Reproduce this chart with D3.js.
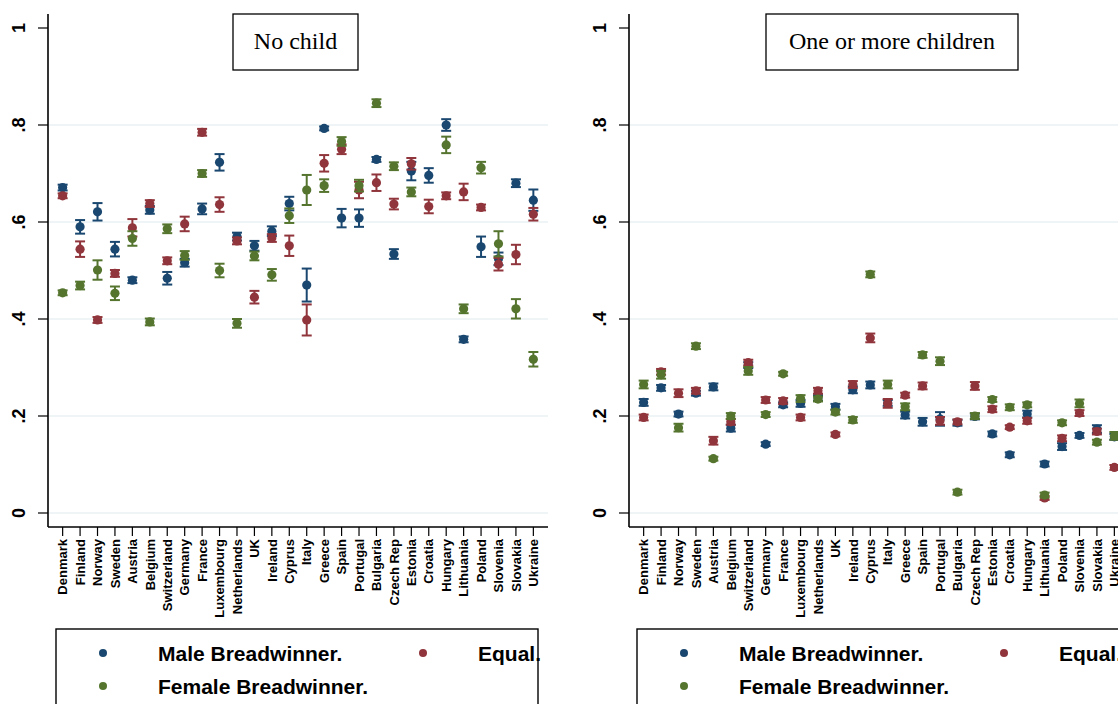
<!DOCTYPE html>
<html>
<head>
<meta charset="utf-8">
<script src="https://cdn.jsdelivr.net/npm/d3@7"></script>
<style>
  body { margin: 0; background: #fff; }
  svg { display: block; }
</style>
</head>
<body>
<div id="chart"></div>
<script>
// countries on the x axis (same order in both panels)
const countries = ['Denmark', 'Finland', 'Norway', 'Sweden', 'Austria', 'Belgium', 'Switzerland',
  'Germany', 'France', 'Luxembourg', 'Netherlands', 'UK', 'Ireland', 'Cyprus', 'Italy', 'Greece',
  'Spain', 'Portugal', 'Bulgaria', 'Czech Rep', 'Estonia', 'Croatia', 'Hungary', 'Lithuania',
  'Poland', 'Slovenia', 'Slovakia', 'Ukraine'];

const yTicks = [0, 0.2, 0.4, 0.6, 0.8, 1];
const yTickLabels = ['0', '.2', '.4', '.6', '.8', '1'];
const gridTicks = [0, 0.2, 0.4, 0.6, 0.8];

const seriesNames = ['Male Breadwinner', 'Equal', 'Female Breadwinner'];
const seriesColors = ['#1a476f', '#90353b', '#55752f'];

// panel 1: no child
const noChildMale = [0.671, 0.590, 0.621, 0.544, 0.480, 0.625, 0.484, 0.516, 0.627, 0.723, 0.570, 0.551, 0.581, 0.638,
  0.470, 0.793, 0.608, 0.608, 0.729, 0.534, 0.705, 0.696, 0.800, 0.358, 0.549, 0.524, 0.680, 0.645];
const noChildMaleCI = [0.006, 0.014, 0.018, 0.015, 0.006, 0.008, 0.013, 0.008, 0.011, 0.017, 0.008, 0.010, 0.010, 0.014,
  0.034, 0.004, 0.019, 0.018, 0.005, 0.010, 0.019, 0.015, 0.012, 0.006, 0.021, 0.013, 0.008, 0.022];
const noChildEqual = [0.654, 0.544, 0.398, 0.494, 0.588, 0.638, 0.520, 0.596, 0.785, 0.636, 0.561, 0.445, 0.567, 0.551,
  0.398, 0.721, 0.750, 0.666, 0.681, 0.637, 0.720, 0.632, 0.654, 0.662, 0.630, 0.513, 0.533, 0.616];
const noChildEqualCI = [0.005, 0.016, 0.006, 0.007, 0.018, 0.007, 0.007, 0.015, 0.007, 0.015, 0.007, 0.013, 0.008, 0.021,
  0.032, 0.017, 0.010, 0.017, 0.017, 0.011, 0.012, 0.014, 0.007, 0.017, 0.006, 0.013, 0.020, 0.013];
const noChildFemale = [0.454, 0.469, 0.501, 0.453, 0.566, 0.394, 0.586, 0.531, 0.700, 0.500, 0.391, 0.530, 0.491, 0.613,
  0.666, 0.675, 0.766, 0.675, 0.845, 0.715, 0.662, null, 0.759, 0.421, 0.712, 0.555, 0.421, 0.317];
const noChildFemaleCI = [0.005, 0.008, 0.020, 0.014, 0.015, 0.007, 0.009, 0.009, 0.007, 0.014, 0.009, 0.009, 0.012, 0.015,
  0.031, 0.013, 0.009, 0.012, 0.008, 0.008, 0.009, 0, 0.017, 0.009, 0.012, 0.026, 0.020, 0.015];

// panel 2: one or more children
const childMale = [0.228, 0.258, 0.204, 0.247, 0.260, 0.175, 0.305, 0.142, 0.223, 0.226, 0.237, 0.219, 0.254, 0.264,
  0.227, 0.202, 0.188, 0.194, 0.186, 0.199, 0.163, 0.120, 0.204, 0.101, 0.137, 0.160, 0.173, 0.157];
const childMaleCI = [0.007, 0.006, 0.005, 0.005, 0.007, 0.007, 0.006, 0.004, 0.005, 0.007, 0.006, 0.006, 0.007, 0.007,
  0.006, 0.007, 0.008, 0.014, 0.006, 0.006, 0.005, 0.005, 0.007, 0.005, 0.007, 0.005, 0.008, 0.006];
const childEqual = [0.197, 0.291, 0.247, 0.252, 0.149, 0.188, 0.310, 0.233, 0.231, 0.197, 0.252, 0.162, 0.265, 0.361,
  0.226, 0.243, 0.262, 0.190, 0.188, 0.262, 0.214, 0.177, 0.190, 0.031, 0.154, 0.206, 0.168, 0.094];
const childEqualCI = [0.006, 0.006, 0.008, 0.006, 0.008, 0.006, 0.006, 0.006, 0.006, 0.006, 0.006, 0.004, 0.007, 0.009,
  0.009, 0.005, 0.007, 0.008, 0.005, 0.008, 0.006, 0.004, 0.006, 0.004, 0.006, 0.006, 0.006, 0.005];
const childFemale = [0.265, 0.285, 0.176, 0.344, 0.112, 0.200, 0.293, 0.203, 0.287, 0.236, 0.235, 0.208, 0.192, 0.492,
  0.265, 0.219, 0.326, 0.313, 0.043, 0.200, 0.234, 0.218, 0.223, 0.037, 0.186, 0.226, 0.146, 0.159];
const childFemaleCI = [0.008, 0.008, 0.008, 0.006, 0.004, 0.006, 0.008, 0.005, 0.004, 0.007, 0.005, 0.005, 0.006, 0.006,
  0.008, 0.007, 0.006, 0.008, 0.005, 0.006, 0.005, 0.006, 0.005, 0.005, 0.005, 0.008, 0.005, 0.008];

const W = 1118, H = 704;

const svg = d3.select('#chart')
  .append('svg')
  .attr('width', W)
  .attr('height', H);

function drawPanel(ox, title, boxX0, boxX1, values, cis) {
  const g = svg.append('g').attr('transform', `translate(${ox},0)`);
  const axisX = 48, axisRight = 548, plotTop = 14, axisY = 527;

  const x = d3.scalePoint().domain(countries).range([axisX, axisRight]).padding(0.84);
  const y = d3.scaleLinear().domain([0, 1]).range([513, 28]);

  // gridlines
  g.append('g')
    .selectAll('line')
    .data(gridTicks)
    .join('line')
    .attr('x1', axisX + 1)
    .attr('x2', axisRight)
    .attr('y1', d => y(d))
    .attr('y2', d => y(d))
    .attr('stroke', '#eaf2f3')
    .attr('stroke-width', 1.6);

  // y axis
  g.append('line')
    .attr('x1', axisX).attr('x2', axisX)
    .attr('y1', plotTop).attr('y2', axisY)
    .attr('stroke', '#000').attr('stroke-width', 1.6);
  g.append('g')
    .selectAll('line')
    .data(yTicks)
    .join('line')
    .attr('x1', axisX - 10).attr('x2', axisX)
    .attr('y1', d => y(d)).attr('y2', d => y(d))
    .attr('stroke', '#000').attr('stroke-width', 1.2);
  g.append('g')
    .selectAll('text')
    .data(yTicks)
    .join('text')
    .attr('transform', d => `translate(25,${y(d)})rotate(-90)`)
    .attr('text-anchor', 'middle')
    .style('font-family', 'Liberation Sans, Arial, sans-serif')
    .style('font-weight', 'bold')
    .style('font-size', '18px')
    .text((d, i) => yTickLabels[i]);

  // x axis
  g.append('line')
    .attr('x1', axisX).attr('x2', axisRight)
    .attr('y1', axisY).attr('y2', axisY)
    .attr('stroke', '#000').attr('stroke-width', 1.6);
  g.append('g')
    .selectAll('line')
    .data(countries)
    .join('line')
    .attr('x1', d => x(d)).attr('x2', d => x(d))
    .attr('y1', axisY).attr('y2', axisY + 9)
    .attr('stroke', '#000').attr('stroke-width', 1.2);
  g.append('g')
    .selectAll('text')
    .data(countries)
    .join('text')
    .attr('transform', d => `translate(${x(d)},539)rotate(-90)`)
    .attr('text-anchor', 'end')
    .attr('dy', '0.36em')
    .style('font-family', 'Liberation Sans, Arial, sans-serif')
    .style('font-weight', 'bold')
    .style('font-size', '13px')
    .text(d => d);

  // error bars + markers, drawn male, equal, female
  values.forEach((vals, s) => {
    const rows = countries.map((c, i) => ({ c: c, v: vals[i], e: cis[s][i] }))
      .filter(d => d.v !== null);
    const sg = g.append('g');
    const col = seriesColors[s];
    sg.selectAll('line.bar')
      .data(rows)
      .join('line')
      .attr('class', 'bar')
      .attr('x1', d => x(d.c)).attr('x2', d => x(d.c))
      .attr('y1', d => y(d.v - d.e)).attr('y2', d => y(d.v + d.e))
      .attr('stroke', col).attr('stroke-width', 2);
    sg.selectAll('line.capTop')
      .data(rows)
      .join('line')
      .attr('class', 'capTop')
      .attr('x1', d => x(d.c) - 5).attr('x2', d => x(d.c) + 5)
      .attr('y1', d => y(d.v + d.e)).attr('y2', d => y(d.v + d.e))
      .attr('stroke', col).attr('stroke-width', 2);
    sg.selectAll('line.capBot')
      .data(rows)
      .join('line')
      .attr('class', 'capBot')
      .attr('x1', d => x(d.c) - 5).attr('x2', d => x(d.c) + 5)
      .attr('y1', d => y(d.v - d.e)).attr('y2', d => y(d.v - d.e))
      .attr('stroke', col).attr('stroke-width', 2);
    sg.selectAll('circle')
      .data(rows)
      .join('circle')
      .attr('cx', d => x(d.c))
      .attr('cy', d => y(d.v))
      .attr('r', 4.6)
      .attr('fill', col);
  });

  // title box
  g.append('rect')
    .attr('x', boxX0).attr('y', 14)
    .attr('width', boxX1 - boxX0).attr('height', 56)
    .attr('fill', '#fff')
    .attr('stroke', '#000').attr('stroke-width', 1.3);
  g.append('text')
    .attr('x', (boxX0 + boxX1) / 2)
    .attr('y', 49)
    .attr('text-anchor', 'middle')
    .style('font-family', 'Liberation Serif, Times New Roman, serif')
    .style('font-size', '24px')
    .text(title);

  // legend
  const lg = g.append('g');
  lg.append('rect')
    .attr('x', 56).attr('y', 629)
    .attr('width', 482).attr('height', 100)
    .attr('fill', '#fff')
    .attr('stroke', '#000').attr('stroke-width', 1.4);
  const legendPos = [[103, 653], [423, 653], [103, 686]];
  seriesNames.forEach((name, s) => {
    const p = legendPos[s];
    lg.append('circle')
      .attr('cx', p[0]).attr('cy', p[1])
      .attr('r', 4)
      .attr('fill', seriesColors[s]);
    lg.append('text')
      .attr('x', p[0] + 55).attr('y', p[1])
      .attr('dy', '0.36em')
      .style('font-family', 'Liberation Sans, Arial, sans-serif')
      .style('font-weight', 'bold')
      .style('font-size', '21px')
      .text(name + '.');
  });
}

drawPanel(0, 'No child', 233, 358,
  [noChildMale, noChildEqual, noChildFemale],
  [noChildMaleCI, noChildEqualCI, noChildFemaleCI]);

drawPanel(581, 'One or more children', 185, 437,
  [childMale, childEqual, childFemale],
  [childMaleCI, childEqualCI, childFemaleCI]);
</script>
</body>
</html>
